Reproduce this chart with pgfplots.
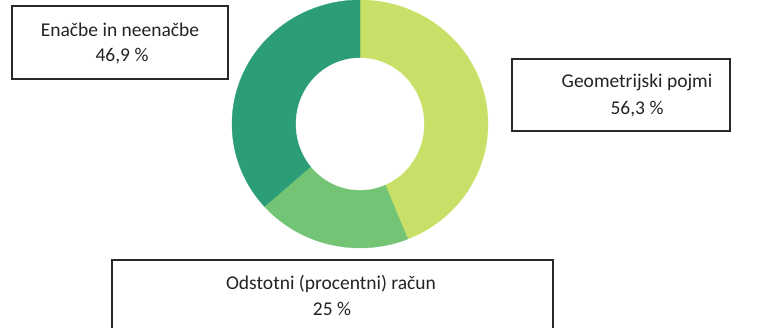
\documentclass[border=0pt]{standalone}
\usepackage{fontspec}
\setmainfont{Carlito}
\usepackage{pgfplots}
\pgfplotsset{compat=1.18}
\definecolor{cA}{RGB}{201,224,104}
\definecolor{cB}{RGB}{116,196,118}
\definecolor{cC}{RGB}{44,158,119}
\definecolor{txt}{RGB}{35,35,35}
\definecolor{frm}{RGB}{40,40,40}
% data (percent of respondents)
\def\vA{56.3}% Geometrijski pojmi
\def\vB{25}%   Odstotni (procentni) racun
\def\vC{46.9}% Enacbe in neenacbe
\pgfmathsetmacro\tot{\vA+\vB+\vC}
\pgfmathsetmacro\aA{90-360*(\vA/\tot)}
\pgfmathsetmacro\aB{\aA-360*(\vB/\tot)}
\pgfmathsetmacro\aC{\aB-360*(\vC/\tot)}
\def\cx{360}\def\cy{204}
\def\Rx{128}\def\Ry{124}
\def\rx{64}\def\ry{66}
\tikzset{lbl/.style={anchor=base, inner sep=0pt, text=txt, font=\fontsize{19.5}{22}\selectfont}}
\begin{document}
\begin{tikzpicture}
\begin{axis}[
  at={(0,0)}, anchor=south west,
  scale only axis, width=772pt, height=328pt,
  xmin=0, xmax=772, ymin=0, ymax=328,
  hide axis, clip=false,
]
\addplot[fill=cA, draw=cA, line width=0.3pt, domain=\aA:90, samples=90, variable=\t]
  ({\cx+\Rx*cos(\t)},{\cy+\Ry*sin(\t)}) -- (axis cs:\cx,\cy) -- cycle;
\addplot[fill=cB, draw=cB, line width=0.3pt, domain=\aB:\aA, samples=50, variable=\t]
  ({\cx+\Rx*cos(\t)},{\cy+\Ry*sin(\t)}) -- (axis cs:\cx,\cy) -- cycle;
\addplot[fill=cC, draw=cC, line width=0.3pt, domain=\aC:\aB, samples=80, variable=\t]
  ({\cx+\Rx*cos(\t)},{\cy+\Ry*sin(\t)}) -- (axis cs:\cx,\cy) -- cycle;
\addplot[fill=white, draw=white, line width=0.3pt, domain=0:360, samples=120, variable=\t]
  ({\cx+\rx*cos(\t)},{\cy+\ry*sin(\t)}) -- cycle;
% label boxes
\draw[frm, line width=1.3pt] (axis cs:12,249) rectangle (axis cs:228,322);
\node[lbl] at (axis cs:120,291) {Enačbe in neenačbe};
\node[lbl] at (axis cs:122,266) {46,9 \%};
\draw[frm, line width=1.3pt] (axis cs:512,197) rectangle (axis cs:730,269);
\node[lbl] at (axis cs:637,240) {Geometrijski pojmi};
\node[lbl] at (axis cs:637,213) {56,3 \%};
\draw[frm, line width=1.3pt] (axis cs:112,-5) |- (axis cs:553,68) -- (axis cs:553,-5);
\node[lbl] at (axis cs:331,38) {Odstotni (procentni) račun};
\node[lbl] at (axis cs:332,12) {25 \%};
\end{axis}
\pgfresetboundingbox
\useasboundingbox (0,0) rectangle (772pt,328pt);
\end{tikzpicture}
\end{document}
